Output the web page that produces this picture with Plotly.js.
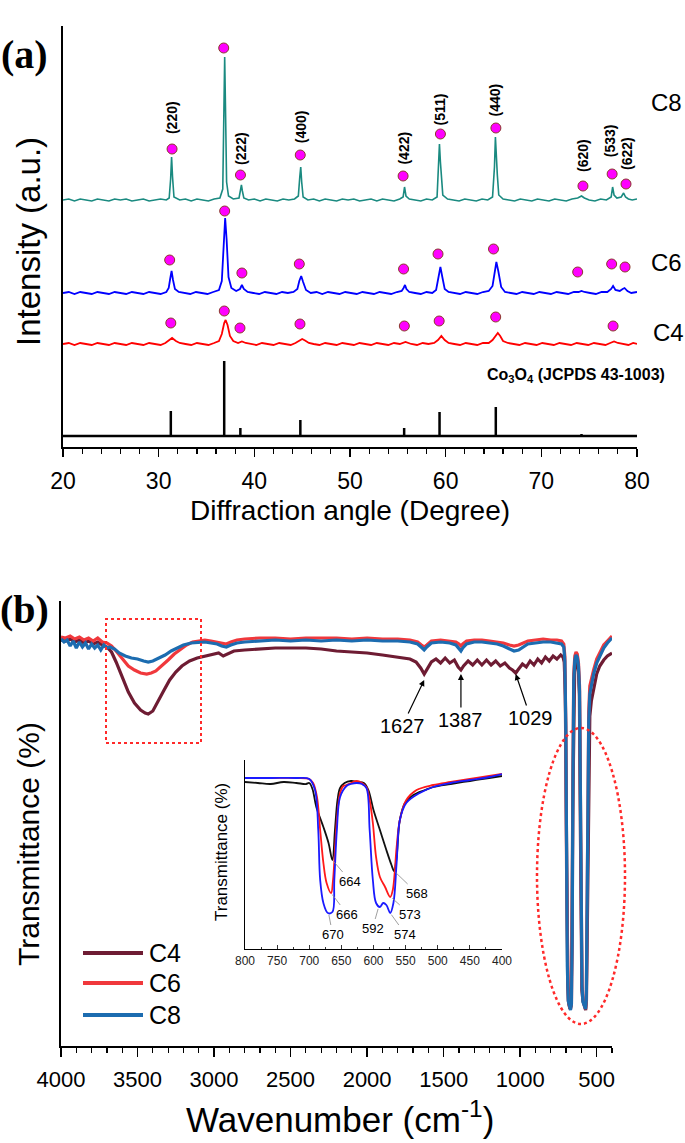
<!DOCTYPE html>
<html><head><meta charset="utf-8">
<script src="https://cdn.plot.ly/plotly-3.0.1.min.js"></script>
<style>html,body{margin:0;padding:0;background:#fff;} #chart{width:685px;height:1143px;}</style>
</head><body><div id="chart"></div>
<script>
// ---------------- Panel (a): XRD (stacked intensities, a.u.) ----------------
const xrdC8 = [[20,247],[20.6,248],[21.2,246],[21.8,248],[22.4,247],[23,246],[23.6,248],[24.2,247],[24.8,246],[25.4,248],[26,247],[26.6,248],[27.2,246],[27.8,247],[28.4,248],[29,246],[29.6,247],[30.2,248],[30.8,247],[31.1,249],[31.25,268],[31.35,290],[31.45,270],[31.6,250],[32.2,247],[32.8,248],[33.4,246],[34,248],[34.6,247],[35.2,246],[35.8,248],[36.4,249],[36.7,258],[36.8,320],[36.9,390],[37.0,330],[37.1,265],[37.3,251],[37.8,248],[38.4,249],[38.55,256],[38.65,262],[38.75,256],[38.9,249],[39.4,247],[40,248],[40.6,246],[41.2,248],[41.8,247],[42.4,246],[43,248],[43.6,247],[44.2,248],[44.6,251],[44.75,270],[44.85,280],[44.95,265],[45.1,250],[45.6,247],[46.2,248],[46.8,246],[47.4,248],[48,247],[48.6,246],[49.2,248],[49.8,247],[50.4,248],[51,246],[51.6,247],[52.2,248],[52.8,246],[53.4,248],[54,247],[54.6,246],[55.2,248],[55.55,250],[55.7,260],[55.85,251],[56.2,248],[56.8,247],[57.4,246],[58,248],[58.6,247],[59.1,250],[59.25,280],[59.35,303],[59.45,285],[59.55,270],[59.7,252],[60.2,248],[60.8,247],[61.4,246],[62,248],[62.6,247],[63.2,246],[63.8,248],[64.4,247],[64.9,250],[65.1,280],[65.2,310],[65.3,285],[65.4,272],[65.55,252],[66,248],[66.6,247],[67.2,246],[67.8,248],[68.4,247],[69,246],[69.6,248],[70.2,247],[70.8,246],[71.4,248],[72,247],[72.6,246],[73.2,248],[73.8,249],[74.2,251],[74.5,249],[75,247],[75.6,246],[76.2,248],[76.8,247],[77.3,250],[77.45,260],[77.6,252],[77.9,249],[78.35,250],[78.6,254],[78.8,250],[79.1,248],[79.5,247],[80,248]];
const xrdC6 = [[20,154],[20.6,155],[21.2,153],[21.8,155],[22.4,154],[23,153],[23.6,155],[24.2,154],[24.8,153],[25.4,155],[26,154],[26.6,153],[27.2,155],[27.8,154],[28.4,153],[29,155],[29.6,154],[30.2,153],[30.8,155],[31.05,159],[31.2,168],[31.35,176],[31.5,167],[31.7,158],[32.1,155],[32.7,154],[33.3,153],[33.9,155],[34.5,154],[35.1,153],[35.7,155],[36.3,157],[36.6,166],[36.8,205],[36.95,229],[37.1,208],[37.3,170],[37.6,159],[38.1,156],[38.5,158],[38.7,162],[38.9,158],[39.3,155],[39.9,154],[40.5,153],[41.1,155],[41.7,154],[42.3,153],[42.9,155],[43.5,154],[44.1,155],[44.5,158],[44.7,166],[44.9,171],[45.1,165],[45.4,157],[45.9,154],[46.5,155],[47.1,153],[47.7,155],[48.3,154],[48.9,153],[49.5,155],[50.1,154],[50.7,153],[51.3,155],[51.9,154],[52.5,153],[53.1,155],[53.7,154],[54.3,153],[54.9,155],[55.4,156],[55.6,159],[55.75,162],[55.9,158],[56.2,155],[56.8,154],[57.4,153],[58,155],[58.6,154],[59,157],[59.25,170],[59.45,180],[59.65,170],[59.9,158],[60.3,155],[60.9,154],[61.5,153],[62.1,155],[62.7,154],[63.3,153],[63.9,155],[64.5,156],[64.9,161],[65.15,176],[65.3,185],[65.5,176],[65.8,160],[66.2,155],[66.8,154],[67.4,153],[68,155],[68.6,154],[69.2,153],[69.8,155],[70.4,154],[71,153],[71.6,155],[72.2,154],[72.8,153],[73.4,155],[73.9,155],[74.2,156],[74.5,155],[75.1,154],[75.7,153],[76.3,155],[76.9,155],[77.3,158],[77.5,161],[77.75,157],[78.2,156],[78.5,158],[78.7,159],[79,156],[79.4,154],[80,155]];
const xrdC4 = [[20,103],[20.6,104],[21.2,102],[21.8,104],[22.4,103],[23,102],[23.6,104],[24.2,103],[24.8,102],[25.4,104],[26,103],[26.6,102],[27.2,104],[27.8,103],[28.4,102],[29,104],[29.6,103],[30.2,102],[30.7,104],[31,106],[31.4,109],[31.8,106],[32.2,104],[32.8,103],[33.4,102],[34,104],[34.6,103],[35.2,102],[35.8,104],[36.3,106],[36.6,113],[36.85,124],[37.0,127],[37.2,122],[37.45,111],[37.8,106],[38.3,104],[38.7,105.5],[39.1,104],[39.6,103],[40.2,102],[40.8,104],[41.4,103],[42,102],[42.6,104],[43.2,103],[43.8,102],[44.3,104],[44.7,106.5],[45.0,108],[45.3,106.5],[45.7,104],[46.2,103],[46.8,102],[47.4,104],[48,103],[48.6,102],[49.2,104],[49.8,103],[50.4,102],[51,104],[51.6,103],[52.2,102],[52.8,104],[53.4,103],[54,102],[54.6,104],[55.2,103],[55.8,105],[56.4,103],[57,102],[57.6,104],[58.2,103],[58.8,104],[59.2,107],[59.55,111],[59.9,107],[60.3,104],[60.9,103],[61.5,102],[62.1,104],[62.7,103],[63.3,102],[63.9,104],[64.5,104],[64.9,107],[65.25,112],[65.45,114],[65.7,111],[66,106],[66.5,104],[67.1,103],[67.7,102],[68.3,104],[68.9,103],[69.5,102],[70.1,104],[70.7,103],[71.3,102],[71.9,104],[72.5,103],[73.1,102],[73.7,104],[74.3,103],[74.9,102],[75.5,104],[76.1,103],[76.7,102],[77.2,104],[77.6,105.5],[78,104],[78.5,103],[79.1,102],[79.6,104],[80,103]];
// JCPDS 43-1003 reference sticks
const refPos  = [31.27, 36.85, 38.54, 44.81, 49.1, 55.66, 59.36, 65.24, 68.6, 69.8, 74.2];
const refTop  = [36, 86, 19, 27, 12, 19, 35, 40, 12, 12, 13];
const refBase = 11;
// Co3O4 peak markers
const mkC8x = [31.4, 36.8, 38.55, 44.8, 55.55, 59.45, 65.25, 74.35, 77.4, 78.85];
const mkC8y = [298, 399, 272, 292, 271, 313, 319, 261, 273, 263];
const mkC6x = [31.15, 36.9, 38.7, 44.7, 55.6, 59.2, 65.0, 73.8, 77.35, 78.75];
const mkC6y = [187, 236, 174, 183, 178, 193, 198, 175, 183, 180];
const mkC4x = [31.27, 36.86, 38.5, 44.77, 55.68, 59.32, 65.23, 77.5];
const mkC4y = [124, 136, 119, 123, 121, 126, 130, 121];
// Miller indices
const hklText = ['(220)','(311)','(222)','(400)','(422)','(511)','(440)','(620)','(533)','(622)'];
const hklX    = [31.4, 36.95, 38.6, 44.9, 55.6, 59.45, 65.2, 74.35, 77.2, 78.95];
const hklY    = [329, 429, 299, 320, 299, 338, 347, 292, 306, 294];

// ---------------- Panel (b): FTIR ----------------
const ftC8 = [[4000,407],[3980,404],[3960,406],[3940,400],[3920,405],[3900,398],[3880,404],[3860,399],[3840,403],[3820,397],[3800,402],[3780,398],[3760,401],[3740,396],[3720,401],[3700,398],[3680,399],[3650,397],[3620,393],[3580,390],[3540,388],[3500,387],[3460,385],[3430,384],[3400,385],[3360,388],[3320,391],[3280,395],[3240,398],[3200,401],[3150,403],[3100,404],[3060,404],[3020,403],[2980,402],[2950,400],[2920,399],[2890,401],[2850,403],[2800,404],[2700,405],[2600,406],[2500,405],[2400,406],[2300,405],[2200,406],[2100,405],[2000,406],[1900,405],[1800,405],[1720,404],[1670,402],[1640,398],[1627,396],[1610,399],[1580,403],[1520,404],[1460,403],[1420,401],[1400,398],[1387,395],[1375,398],[1350,402],[1300,404],[1250,404],[1200,403],[1150,402],[1110,400],[1070,397],[1040,395],[1010,396],[980,399],[950,402],[900,403],[850,404],[800,404],[760,403],[730,402],[715,399],[708,385],[702,320],[697,180],[692,80],[686,45],[678,38],[671,36],[665,42],[660,110],[655,270],[650,365],[643,386],[635,391],[627,389],[619,380],[612,355],[606,240],[601,120],[596,60],[590,44],[584,42],[578,40],[573,37],[568,46],[563,120],[558,250],[552,325],[545,352],[535,362],[520,372],[500,383],[480,390],[454,398],[430,403],[415,405],[400,408]];
const ftC6 = [[4000,409],[3970,408],[3940,410],[3910,407],[3880,409],[3850,406],[3820,408],[3790,405],[3760,408],[3730,404],[3700,403],[3670,400],[3640,395],[3600,387],[3560,380],[3520,376],[3480,373],[3440,372],[3410,373],[3380,375],[3340,380],[3300,386],[3260,392],[3220,397],[3180,401],[3140,404],[3100,405],[3060,406],[3020,405],[2980,404],[2950,403],[2920,402],[2890,404],[2850,406],[2800,407],[2700,408],[2600,408],[2500,407],[2400,408],[2300,408],[2200,408],[2100,407],[2000,408],[1900,407],[1800,407],[1720,406],[1670,404],[1645,401],[1627,399],[1610,401],[1580,405],[1520,406],[1460,405],[1420,404],[1400,402],[1387,400],[1375,402],[1350,405],[1300,406],[1250,406],[1200,405],[1150,404],[1110,403],[1070,401],[1040,400],[1010,401],[980,403],[950,405],[900,406],[850,407],[800,406],[760,406],[730,405],[715,402],[708,390],[702,320],[697,180],[692,80],[686,46],[678,40],[671,37],[665,42],[660,115],[655,280],[650,372],[643,390],[635,394],[627,392],[619,383],[612,360],[606,245],[601,125],[596,62],[590,47],[584,44],[578,40],[573,37],[568,46],[563,125],[558,260],[552,335],[545,360],[535,368],[520,376],[500,387],[480,393],[454,401],[430,405],[415,407],[400,410]];
const ftC4 = [[4000,406],[3970,405],[3940,407],[3910,404],[3880,406],[3850,403],[3820,405],[3790,402],[3760,404],[3730,401],[3700,399],[3670,394],[3640,384],[3600,368],[3560,354],[3520,343],[3480,336],[3450,333],[3430,332],[3400,335],[3370,343],[3330,355],[3290,366],[3250,374],[3210,380],[3160,385],[3110,388],[3060,390],[3010,392],[2970,393],[2940,390],[2910,392],[2870,395],[2800,396],[2700,397],[2600,398],[2500,398],[2400,398],[2300,397],[2200,395],[2100,394],[2000,393],[1900,391],[1800,389],[1720,387],[1680,384],[1650,378],[1627,372],[1605,377],[1580,384],[1550,387],[1520,383],[1490,388],[1460,383],[1430,386],[1405,379],[1387,376],[1370,380],[1340,385],[1310,381],[1280,386],[1250,381],[1220,386],[1190,381],[1160,385],[1130,380],[1100,383],[1070,378],[1050,376],[1029,373],[1010,377],[985,382],[960,379],[935,385],[910,381],[885,387],[860,383],[835,389],[810,385],[785,390],[760,387],[735,391],[720,389],[712,384],[705,350],[699,250],[694,130],[689,60],[682,42],[675,37],[668,40],[662,100],[657,230],[651,340],[644,374],[636,383],[628,386],[620,378],[613,350],[607,225],[602,112],[597,56],[590,45],[583,42],[577,40],[572,36],[567,45],[562,110],[557,230],[552,300],[545,330],[535,345],[520,358],[500,372],[480,380],[454,386],[430,390],[415,392],[400,393]];
// inset (800-400 cm-1)
const inBlack = [[800,167],[780,166],[760,165],[740,167],[720,166],[705,165],[700,166],[695,160],[689,142],[678,122],[670,106],[664,89],[660,119],[656,149],[652,161],[645,166],[635,168],[625,167],[615,166],[608,159],[600,139],[590,119],[580,99],[572,84],[568,78],[564,92],[559,129],[551,146],[538,154],[520,159],[507,162],[480,165],[450,168],[420,171],[400,173]];
const inRed = [[800,171],[760,171],[720,171],[700,170],[694,166],[688,152],[683,119],[678,86],[673,66],[666,56],[663,69],[657,129],[652,156],[647,163],[642,164],[635,166],[626,168],[618,166],[611,162],[606,149],[601,126],[596,92],[590,72],[582,62],[574,52],[570,59],[564,102],[559,129],[549,149],[533,159],[507,164],[480,167],[450,170],[420,173],[400,175]];
const inBlue = [[800,171],[760,171],[720,171],[700,170],[691,159],[686,119],[683,69],[678,46],[671,36],[664,37],[661,69],[657,119],[652,152],[642,163],[635,165],[626,166],[618,165],[611,161],[606,119],[601,69],[596,46],[590,42],[585,46],[580,44],[574,36],[569,46],[564,86],[559,129],[549,146],[528,156],[507,162],[480,166],[450,169],[420,172],[400,175]];
const inPeakWn  = [664, 666, 670, 592, 568, 573, 574];
const inPeakVal = [89, 56, 36, 42, 78, 52, 36];
const inPeakDx  = [18, 16, 4, -6, 23, 19, 15];
const inPeakDy  = [21, 21, 21, 21, 22, 17, 21];
const bandWn  = [1627, 1387, 1029];
const bandVal = [366, 372, 372];
const bandDx  = [-22, 0, 15];
const bandDy  = [46, 46, 44];

// ---------------- build ----------------
const W = 685, H = 1143;
const PX = x => x / W, PY = y => 1 - y / H;
const FONT = 'Liberation Sans, Arial, sans-serif';
const xs = a => a.map(p => p[0]), ys = a => a.map(p => p[1]);

const refX = [20], refY = [refBase];
refPos.forEach((p, i) => { refX.push(p, p, p); refY.push(refBase, refTop[i], refBase); });
refX.push(80); refY.push(refBase);

const mk = {color:'#ff00ff', size:10, line:{color:'#8b3a2a', width:1}};
const traces = [
  {x:refX, y:refY, xaxis:'x', yaxis:'y', mode:'lines', line:{color:'#000', width:2.5}, name:'Co3O4 ref'},
  {x:xs(xrdC4), y:ys(xrdC4), xaxis:'x', yaxis:'y', mode:'lines', line:{color:'#ff0000', width:1.8}, name:'C4'},
  {x:xs(xrdC6), y:ys(xrdC6), xaxis:'x', yaxis:'y', mode:'lines', line:{color:'#0000ff', width:1.8}, name:'C6'},
  {x:xs(xrdC8), y:ys(xrdC8), xaxis:'x', yaxis:'y', mode:'lines', line:{color:'#1a8a80', width:1.6}, name:'C8'},
  {x:mkC4x, y:mkC4y, xaxis:'x', yaxis:'y', mode:'markers', marker:mk, cliponaxis:false},
  {x:mkC6x, y:mkC6y, xaxis:'x', yaxis:'y', mode:'markers', marker:mk, cliponaxis:false},
  {x:mkC8x, y:mkC8y, xaxis:'x', yaxis:'y', mode:'markers', marker:mk, cliponaxis:false},
  {x:xs(ftC4), y:ys(ftC4), xaxis:'x2', yaxis:'y2', mode:'lines', line:{color:'#6e1c33', width:3.2}, name:'C4'},
  {x:xs(ftC6), y:ys(ftC6), xaxis:'x2', yaxis:'y2', mode:'lines', line:{color:'#f0383c', width:3.2}, name:'C6'},
  {x:xs(ftC8), y:ys(ftC8), xaxis:'x2', yaxis:'y2', mode:'lines', line:{color:'#1c6cb0', width:3.2}, name:'C8'},
  {x:xs(inBlack), y:ys(inBlack), xaxis:'x3', yaxis:'y3', mode:'lines', line:{color:'#111', width:1.8, shape:'spline'}},
  {x:xs(inRed), y:ys(inRed), xaxis:'x3', yaxis:'y3', mode:'lines', line:{color:'#ff1a1a', width:1.8, shape:'spline'}},
  {x:xs(inBlue), y:ys(inBlue), xaxis:'x3', yaxis:'y3', mode:'lines', line:{color:'#1a1aff', width:1.8, shape:'spline'}}
];

const ann = [];
const txt = (x, y, text, size, extra) => ann.push(Object.assign({xref:'paper', yref:'paper', x:PX(x), y:PY(y), xanchor:'center', yanchor:'middle', text, showarrow:false, font:{family:FONT, size, color:'#000'}}, extra || {}));
const SERIF = {family:'Liberation Serif, Times New Roman, serif', size:40, color:'#000'};
txt(25, 54, '<b>(a)</b>', 40, {font:SERIF});
txt(25, 609, '<b>(b)</b>', 40, {font:SERIF});
txt(28, 242, 'Intensity (a.u.)', 33, {textangle:-90});
txt(350, 510, 'Diffraction angle (Degree)', 28);
txt(28, 844, 'Transmittance (%)', 30, {textangle:-90});
txt(340, 1117, 'Wavenumber (cm<sup>-1</sup>)', 35);
txt(666, 102, 'C8', 24);
txt(666, 262, 'C6', 24);
txt(668, 333, 'C4', 24);
txt(576, 375, '<b>Co<sub>3</sub>O<sub>4</sub> (JCPDS 43-1003)</b>', 16);
txt(221, 852, 'Transmittance (%)', 17, {textangle:-90});
hklText.forEach((t, i) => ann.push({xref:'x', yref:'y', x:hklX[i], y:hklY[i], xanchor:'center', yanchor:'middle', text:'<b>'+t+'</b>', textangle:-90, showarrow:false, font:{family:FONT, size:14, color:'#000'}}));
bandWn.forEach((w, i) => ann.push({xref:'x2', yref:'y2', x:w, y:bandVal[i], text:String(w), showarrow:true, arrowhead:2, arrowsize:1, arrowwidth:1.2, arrowcolor:'#000', ax:bandDx[i], ay:bandDy[i], font:{family:FONT, size:20, color:'#000'}}));
inPeakWn.forEach((w, i) => ann.push({xref:'x3', yref:'y3', x:w, y:inPeakVal[i], text:String(w), showarrow:true, arrowhead:0, arrowwidth:0.8, arrowcolor:'#888', standoff:2, ax:inPeakDx[i], ay:inPeakDy[i], font:{family:FONT, size:13, color:'#000'}}));

// legend (panel b)
const legNames = ['C4','C6','C8'], legColors = ['#6e1c33','#f0383c','#1c6cb0'], legRows = [953, 983, 1015];
const shapes = [];
legNames.forEach((n, i) => {
  shapes.push({type:'line', xref:'paper', yref:'paper', x0:PX(83), x1:PX(143), y0:PY(legRows[i]), y1:PY(legRows[i]), line:{color:legColors[i], width:4}});
  ann.push({xref:'paper', yref:'paper', x:PX(147), y:PY(legRows[i]), xanchor:'left', yanchor:'middle', text:n, showarrow:false, font:{family:FONT, size:25, color:'#000'}});
});
shapes.push({type:'rect', xref:'paper', yref:'paper', x0:PX(106), x1:PX(201), y0:PY(743), y1:PY(619), line:{color:'#ff2a2a', width:2, dash:'dot'}});
shapes.push({type:'circle', xref:'paper', yref:'paper', x0:PX(537), x1:PX(625), y0:PY(1024), y1:PY(728), line:{color:'#ff2a2a', width:2.5, dash:'dot'}});

const axBase = {showgrid:false, zeroline:false, showline:true, linecolor:'#000', linewidth:2, mirror:false};
const layout = {
  width:W, height:H, margin:{l:0, r:0, t:0, b:0},
  paper_bgcolor:'#fff', plot_bgcolor:'rgba(0,0,0,0)', showlegend:false,
  font:{family:FONT, color:'#000'},
  xaxis: Object.assign({}, axBase, {domain:[PX(63), PX(637)], anchor:'y', range:[20,80], tick0:20, dtick:10, ticks:'outside', ticklen:8, tickwidth:1.5, tickcolor:'#000', ticklabelstandoff:4, tickfont:{size:23, family:FONT},
    minor:{dtick:2, ticks:'outside', ticklen:5, tickwidth:1.2, tickcolor:'#000'}}),
  yaxis: Object.assign({}, axBase, {domain:[PY(447), PY(26)], anchor:'x', range:[0,421], ticks:'', showticklabels:false}),
  xaxis2: Object.assign({}, axBase, {domain:[PX(61), PX(612)], anchor:'y2', range:[4000,400], tick0:0, dtick:500, ticks:'outside', ticklen:9, tickwidth:1.5, tickcolor:'#000', ticklabelstandoff:4, tickfont:{size:22, family:FONT},
    minor:{dtick:100, ticks:'outside', ticklen:5, tickwidth:1.2, tickcolor:'#000'}}),
  yaxis2: Object.assign({}, axBase, {domain:[PY(1046), PY(601)], anchor:'x2', range:[0,445], ticks:'', showticklabels:false}),
  xaxis3: Object.assign({}, axBase, {domain:[PX(245), PX(502)], anchor:'y3', range:[800,400], tick0:0, dtick:50, linewidth:1.2, ticks:'inside', ticklen:4, tickwidth:1, tickcolor:'#333', tickfont:{size:12, family:FONT, color:'#222'},
    minor:{dtick:25, ticks:'inside', ticklen:2.5, tickwidth:1, tickcolor:'#333'}}),
  yaxis3: Object.assign({}, axBase, {domain:[PY(949), PY(760)], anchor:'x3', range:[0,189], linewidth:1.2, ticks:'', showticklabels:false}),
  annotations: ann,
  shapes: shapes
};
Plotly.newPlot('chart', traces, layout, {displayModeBar:false, staticPlot:true});
</script></body></html>
